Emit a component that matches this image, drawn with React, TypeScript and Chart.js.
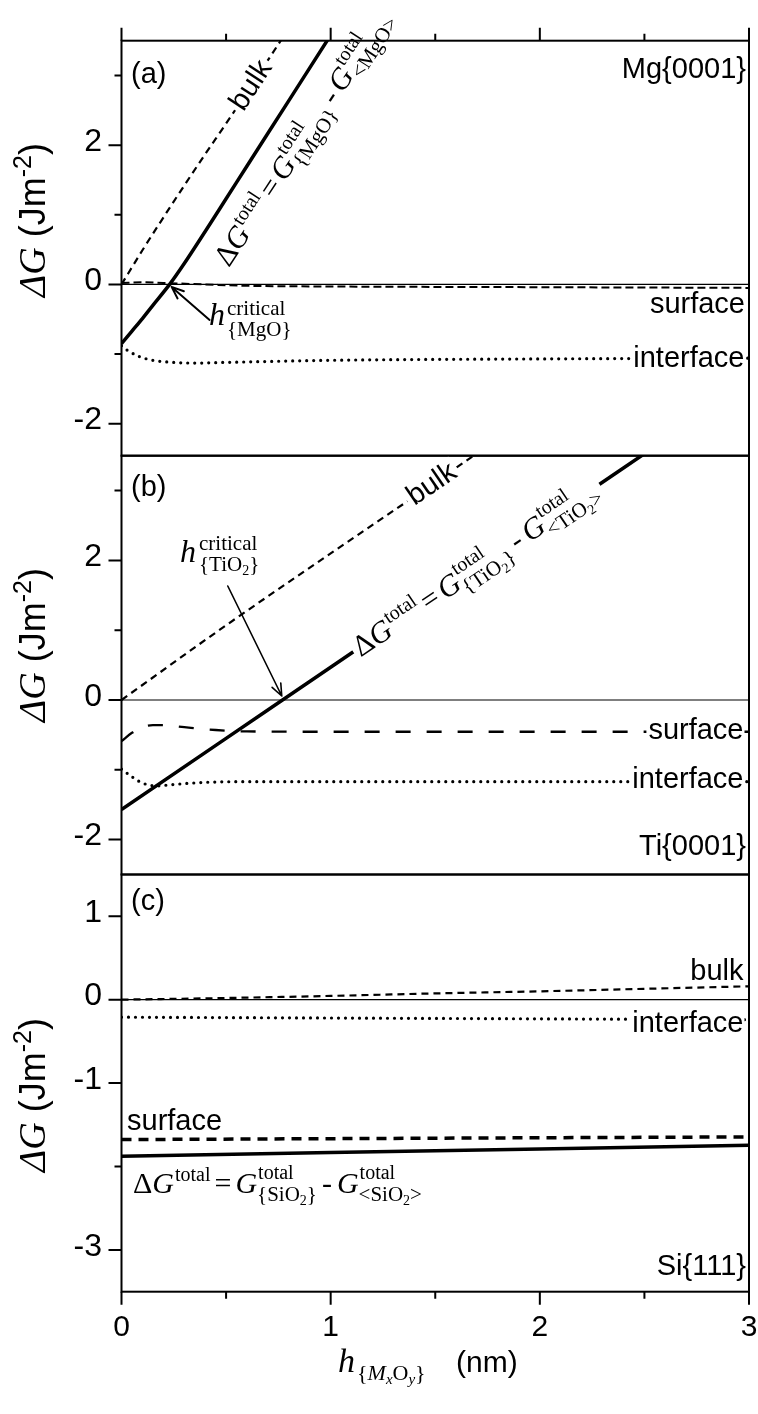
import React, { useEffect, useRef } from 'react';
import { Chart, registerables } from 'chart.js';

Chart.register(...registerables);

// ================= DATA =================
// shared x axis: h (nm)
const xTicksMajor = [0, 1, 2, 3];
const xTicksMinor = [0.5, 1.5, 2.5];
const xTickLabels = ['0', '1', '2', '3'];

// y ticks
const abTicksMajor = [-2, 0, 2];
const abTicksMinor = [-1, 1, 3];
const abTickLabels = ['-2', '0', '2'];
const cTicksMajor = [-3, -1, 0, 1];
const cTicksMinor = [-2];
const cTickLabels = ['-3', '-1', '0', '1'];

// (a) Mg{0001}
const aBulkX = [0, 0.1, 0.2, 0.3, 0.4, 0.5, 0.6, 0.7, 0.8];
const aBulkY = [0, 0.49, 0.96, 1.42, 1.87, 2.31, 2.76, 3.22, 3.68];
const aTotalX = [0, 0.05, 0.1, 0.15, 0.23, 0.3, 0.4, 0.5, 0.6, 0.7, 0.8, 0.9, 1.0];
const aTotalY = [-0.85, -0.67, -0.49, -0.3, 0, 0.3, 0.76, 1.23, 1.7, 2.17, 2.64, 3.11, 3.58];
const aSurfX = [0, 0.1, 0.2, 0.4, 0.6, 1, 2, 3];
const aSurfY = [0.02, 0.03, 0.02, 0, -0.02, -0.03, -0.04, -0.05];
const aIntX = [0, 0.03, 0.08, 0.15, 0.25, 0.35, 0.5, 1, 2, 3];
const aIntY = [-0.88, -0.95, -1.03, -1.09, -1.12, -1.13, -1.12, -1.09, -1.07, -1.06];

// (b) Ti{0001}
const bBulkX = [0, 0.5, 1, 1.5, 1.75];
const bBulkY = [0, 1.07, 2.1, 3.12, 3.64];
const bTotalX = [0, 0.5, 1, 1.5, 2, 2.55];
const bTotalY = [-1.57, -0.55, 0.47, 1.49, 2.51, 3.63];
const bSurfX = [0, 0.05, 0.1, 0.15, 0.2, 0.3, 0.45, 0.6, 1, 2, 3];
const bSurfY = [-0.59, -0.47, -0.39, -0.36, -0.36, -0.39, -0.43, -0.45, -0.455, -0.455, -0.455];
const bIntX = [0, 0.05, 0.1, 0.17, 0.25, 0.4, 0.6, 1, 2, 3];
const bIntY = [-0.99, -1.1, -1.19, -1.23, -1.21, -1.18, -1.17, -1.17, -1.17, -1.17];

// (c) Si{111}
const cBulkX = [0, 0.5, 1, 1.5, 2, 2.5, 3];
const cBulkY = [0, 0.02, 0.045, 0.075, 0.1, 0.13, 0.16];
const cIntX = [0, 1, 2, 3];
const cIntY = [-0.21, -0.22, -0.23, -0.24];
const cSurfX = [0, 1, 2, 3];
const cSurfY = [-1.677, -1.666, -1.655, -1.645];
const cTotalX = [0, 1, 2, 3];
const cTotalY = [-1.877, -1.833, -1.789, -1.745];

// ================= LAYOUT / STYLE =================
const W = 758;
const H = 1414;
const PLOT_L = 121.5;
const PLOT_R = 749;
const X_AXIS_H = 70;

const SANS = '"Liberation Sans", Arial, Helvetica, sans-serif';
const SERIF = '"Liberation Serif", "Times New Roman", Times, serif';
const fs = (n: number) => `${n}px ${SANS}`;
const fr = (n: number) => `${n}px ${SERIF}`;
const fi = (n: number) => `italic ${n}px ${SERIF}`;

type Sty = { width: number; dash: number[]; cap: 'butt' | 'round' };
const BULK: Sty = { width: 2.2, dash: [7, 5], cap: 'butt' };
const TOTAL: Sty = { width: 3.5, dash: [], cap: 'butt' };
const DOTS: Sty = { width: 3.2, dash: [0, 7], cap: 'round' };
const SURF_A: Sty = { width: 2, dash: [8, 4], cap: 'butt' };
const SURF_B: Sty = { width: 2.3, dash: [15, 16], cap: 'butt' };
const SURF_C: Sty = { width: 3.5, dash: [10, 7], cap: 'butt' };

// ================= helpers =================
type Txt = { t: string; f: string; dy?: number; pl?: number; pr?: number };
type Stk = { up: Txt[]; dn: Txt[] };
type Item = Txt | Stk;

function runsDraw(ctx: any, runs: Txt[], x: number, y: number, draw: boolean) {
  for (const r of runs) {
    x += r.pl || 0;
    ctx.font = r.f;
    if (draw) ctx.fillText(r.t, x, y + (r.dy || 0));
    x += ctx.measureText(r.t).width + (r.pr || 0);
  }
  return x;
}
function rich(ctx: any, items: Item[], x: number, y: number, draw = true) {
  ctx.textAlign = 'left';
  ctx.textBaseline = 'alphabetic';
  ctx.fillStyle = '#000';
  for (const it of items) {
    if ((it as Txt).t !== undefined) x = runsDraw(ctx, [it as Txt], x, y, draw);
    else {
      const s = it as Stk;
      const a = runsDraw(ctx, s.up, x, y, draw);
      const b = runsDraw(ctx, s.dn, x, y, draw);
      x = Math.max(a, b);
    }
  }
  return x;
}
function richWidth(ctx: any, items: Item[]) {
  return rich(ctx, items, 0, 0, false);
}
function interp(xs: number[], ys: number[], x: number) {
  for (let i = 0; i < xs.length - 1; i++) {
    if (x <= xs[i + 1] || i === xs.length - 2) {
      const t = (x - xs[i]) / (xs[i + 1] - xs[i]);
      return ys[i] + t * (ys[i + 1] - ys[i]);
    }
  }
  return ys[ys.length - 1];
}
function onLine(chart: any, xs: number[], ys: number[], x: number) {
  const sx = chart.scales.x;
  const sy = chart.scales.y;
  const p = (v: number) => ({ x: sx.getPixelForValue(v), y: sy.getPixelForValue(interp(xs, ys, v)) });
  const c = p(x);
  const p1 = p(x - 0.03);
  const p2 = p(x + 0.03);
  return { x: c.x, y: c.y, ang: Math.atan2(p2.y - p1.y, p2.x - p1.x) };
}
function text(ctx: any, s: string, font: string, x: number, y: number, align: 'left' | 'right', box = false) {
  ctx.font = font;
  const w = ctx.measureText(s).width;
  const left = align === 'left' ? x : x - w;
  if (box) {
    ctx.fillStyle = '#fff';
    ctx.fillRect(left - 2, y - 23, w + 3, 28);
  }
  ctx.fillStyle = '#000';
  ctx.textAlign = 'left';
  ctx.textBaseline = 'alphabetic';
  ctx.fillText(s, left, y);
}
function rotatedBoxed(ctx: any, s: string, font: string, L: any) {
  ctx.save();
  ctx.translate(L.x, L.y);
  ctx.rotate(L.ang);
  ctx.font = font;
  const w = ctx.measureText(s).width;
  ctx.fillStyle = '#fff';
  ctx.fillRect(-w / 2 - 3, -14, w + 6, 27);
  ctx.fillStyle = '#000';
  ctx.textAlign = 'center';
  ctx.textBaseline = 'middle';
  ctx.fillText(s, 0, 0);
  ctx.restore();
}
function arrow(ctx: any, x1: number, y1: number, x2: number, y2: number, lw: number, head: number) {
  ctx.save();
  ctx.strokeStyle = '#000';
  ctx.lineWidth = lw;
  ctx.lineCap = 'round';
  ctx.beginPath();
  ctx.moveTo(x1, y1);
  ctx.lineTo(x2, y2);
  const a = Math.atan2(y2 - y1, x2 - x1);
  for (const s of [-1, 1]) {
    ctx.moveTo(x2, y2);
    ctx.lineTo(x2 - head * Math.cos(a + s * 0.38), y2 - head * Math.sin(a + s * 0.38));
  }
  ctx.stroke();
  ctx.restore();
}
const sub = (t: string): Txt => ({ t, f: fr(21), dy: 8 });
const subsub = (t: string): Txt => ({ t, f: fr(14), dy: 12 });
function dgItems(cin: Txt[], cout: Txt[]): Item[] {
  return [
    { t: 'Δ', f: fr(30) },
    { t: 'G', f: fi(30) },
    { t: 'total', f: fr(20), dy: -12, pl: 1 },
    { t: '=', f: fr(30), pl: 4, pr: 4 },
    { t: 'G', f: fi(30) },
    { up: [{ t: 'total', f: fr(20), dy: -14, pl: 1 }], dn: cin },
    { t: '-', f: fr(30), pl: 5, pr: 5 },
    { t: 'G', f: fi(30) },
    { up: [{ t: 'total', f: fr(20), dy: -14, pl: 1 }], dn: cout },
  ];
}
function yTitle(ctx: any, cy: number) {
  const items: Item[] = [
    { t: 'ΔG', f: fi(38) },
    { t: ' (Jm', f: fs(36) },
    { t: '-2', f: fs(25), dy: -14 },
    { t: ')', f: fs(36) },
  ];
  ctx.save();
  ctx.translate(45, cy);
  ctx.rotate(-Math.PI / 2);
  const w = richWidth(ctx, items);
  rich(ctx, items, -w / 2, 0);
  ctx.restore();
}

// ================= panels =================
type Series = { xs: number[]; ys: number[]; sty: Sty };
interface PanelSpec {
  id: string;
  top: number;
  bottom: number;
  min: number;
  max: number;
  series: Series[];
  yMajor: number[];
  yMinor: number[];
  yLabels: string[];
  showX: boolean;
  topTicks: boolean;
  bottomTicks: boolean;
  titleY: number;
  annotate: (chart: any, ctx: any) => void;
}

const PANELS: PanelSpec[] = [
  {
    id: 'a',
    top: 40.7,
    bottom: 455.7,
    min: -2.46,
    max: 3.5,
    series: [
      { xs: aBulkX, ys: aBulkY, sty: BULK },
      { xs: aSurfX, ys: aSurfY, sty: SURF_A },
      { xs: aIntX, ys: aIntY, sty: DOTS },
      { xs: aTotalX, ys: aTotalY, sty: TOTAL },
    ],
    yMajor: abTicksMajor,
    yMinor: abTicksMinor,
    yLabels: abTickLabels,
    showX: false,
    topTicks: true,
    bottomTicks: false,
    titleY: 220,
    annotate: (chart, ctx) => {
      text(ctx, '(a)', fs(29), 131, 83, 'left');
      text(ctx, 'Mg{0001}', fs(29), 746, 78, 'right');
      text(ctx, 'surface', fs(29), 745, 313, 'right');
      text(ctx, 'interface', fs(29), 744.5, 366.5, 'right', true);
      rotatedBoxed(ctx, 'bulk', fs(29), onLine(chart, aBulkX, aBulkY, 0.621));
      // ΔG label beside the solid line
      const L = onLine(chart, aTotalX, aTotalY, 0.354);
      ctx.save();
      ctx.translate(L.x, L.y);
      ctx.rotate(L.ang);
      rich(ctx, dgItems([sub('{MgO}')], [sub('<MgO>')]), 0, 40);
      ctx.restore();
      // h critical
      const tipX = chart.scales.x.getPixelForValue(0.23) + 2;
      const tipY = chart.scales.y.getPixelForValue(0) + 2.5;
      arrow(ctx, tipX + 38, tipY + 33, tipX, tipY, 2, 13);
      rich(ctx, [{ t: 'h', f: fi(32) }], 209, 325);
      rich(ctx, [{ t: 'critical', f: fr(21) }], 227, 315);
      rich(ctx, [{ t: '{MgO}', f: fr(21) }], 227, 336);
    },
  },
  {
    id: 'b',
    top: 455.7,
    bottom: 874.5,
    min: -2.5,
    max: 3.5,
    series: [
      { xs: bBulkX, ys: bBulkY, sty: BULK },
      { xs: bSurfX, ys: bSurfY, sty: SURF_B },
      { xs: bIntX, ys: bIntY, sty: DOTS },
      { xs: bTotalX, ys: bTotalY, sty: TOTAL },
    ],
    yMajor: abTicksMajor,
    yMinor: abTicksMinor,
    yLabels: abTickLabels,
    showX: false,
    topTicks: false,
    bottomTicks: false,
    titleY: 645,
    annotate: (chart, ctx) => {
      text(ctx, '(b)', fs(29), 131, 496, 'left');
      text(ctx, 'Ti{0001}', fs(29), 746, 855, 'right');
      text(ctx, 'surface', fs(29), 743.5, 739, 'right', true);
      text(ctx, 'interface', fs(29), 743.5, 788, 'right', true);
      rotatedBoxed(ctx, 'bulk', fs(29), onLine(chart, bBulkX, bBulkY, 1.484));
      // ΔG label over the solid line
      const L = onLine(chart, bTotalX, bTotalY, 1.1);
      const items = dgItems([sub('{TiO'), subsub('2'), sub('}')], [sub('<TiO'), subsub('2'), sub('>')]);
      ctx.save();
      ctx.translate(L.x, L.y);
      ctx.rotate(L.ang);
      const w = richWidth(ctx, items);
      ctx.fillStyle = '#fff';
      ctx.fillRect(2, 9 - 31, w + 8, 45);
      rich(ctx, items, 5, 9);
      ctx.restore();
      // h critical
      const tipX = chart.scales.x.getPixelForValue(0.771) - 1;
      const tipY = chart.scales.y.getPixelForValue(0) - 4;
      arrow(ctx, tipX - 54, tipY - 110, tipX, tipY, 1.6, 13);
      rich(ctx, [{ t: 'h', f: fi(32) }], 180, 562);
      rich(ctx, [{ t: 'critical', f: fr(21) }], 199, 550);
      rich(ctx, [{ t: '{TiO', f: fr(21) }, { t: '2', f: fr(14), dy: 4 }, { t: '}', f: fr(21) }], 199, 571);
    },
  },
  {
    id: 'c',
    top: 874.5,
    bottom: 1291.7,
    min: -3.5,
    max: 1.5,
    series: [
      { xs: cBulkX, ys: cBulkY, sty: BULK },
      { xs: cIntX, ys: cIntY, sty: DOTS },
      { xs: cSurfX, ys: cSurfY, sty: SURF_C },
      { xs: cTotalX, ys: cTotalY, sty: TOTAL },
    ],
    yMajor: cTicksMajor,
    yMinor: cTicksMinor,
    yLabels: cTickLabels,
    showX: true,
    topTicks: false,
    bottomTicks: true,
    titleY: 1095,
    annotate: (chart, ctx) => {
      text(ctx, '(c)', fs(29), 131, 910, 'left');
      text(ctx, 'Si{111}', fs(29), 746, 1275, 'right');
      text(ctx, 'bulk', fs(29), 743.5, 980, 'right');
      text(ctx, 'interface', fs(29), 743.5, 1032, 'right', true);
      text(ctx, 'surface', fs(29), 127, 1130, 'left');
      rich(ctx, dgItems([sub('{SiO'), subsub('2'), sub('}')], [sub('<SiO'), subsub('2'), sub('>')]), 133, 1193);
      // x axis title
      rich(
        ctx,
        [
          { t: 'h', f: fi(34) },
          { t: '{', f: fr(22), dy: 8, pl: 2 },
          { t: 'M', f: fi(22), dy: 8 },
          { t: 'x', f: fi(15), dy: 12 },
          { t: 'O', f: fr(22), dy: 8 },
          { t: 'y', f: fi(15), dy: 12 },
          { t: '}', f: fr(22), dy: 8 },
        ],
        338,
        1372
      );
      rich(ctx, [{ t: '(nm)', f: fs(30) }], 456, 1372);
    },
  },
];

function makeConfig(p: PanelSpec): any {
  const plugin = {
    id: 'panelDeco' + p.id,
    beforeDatasetsDraw(chart: any) {
      const { ctx, chartArea: a } = chart;
      const y0 = chart.scales.y.getPixelForValue(0);
      ctx.save();
      ctx.strokeStyle = '#000';
      ctx.lineWidth = 1.2;
      ctx.beginPath();
      ctx.moveTo(a.left, y0);
      ctx.lineTo(a.right, y0);
      ctx.stroke();
      ctx.restore();
    },
    afterDatasetsDraw(chart: any) {
      const ctx = chart.ctx;
      ctx.save();
      p.annotate(chart, ctx);
      yTitle(ctx, p.titleY);
      ctx.restore();
    },
    afterDraw(chart: any) {
      const { ctx, chartArea: a } = chart;
      const sx = chart.scales.x;
      const sy = chart.scales.y;
      ctx.save();
      ctx.strokeStyle = '#000';
      ctx.lineWidth = 2;
      ctx.lineCap = 'butt';
      ctx.setLineDash([]);
      ctx.strokeRect(a.left, a.top, a.right - a.left, a.bottom - a.top);
      ctx.beginPath();
      for (const v of p.yMajor) {
        const y = sy.getPixelForValue(v);
        ctx.moveTo(a.left - 13, y);
        ctx.lineTo(a.left, y);
      }
      for (const v of p.yMinor) {
        const y = sy.getPixelForValue(v);
        ctx.moveTo(a.left - 7, y);
        ctx.lineTo(a.left, y);
      }
      const xt = (y0: number, dir: number) => {
        for (const v of xTicksMajor) {
          const x = sx.getPixelForValue(v);
          ctx.moveTo(x, y0);
          ctx.lineTo(x, y0 + dir * 13);
        }
        for (const v of xTicksMinor) {
          const x = sx.getPixelForValue(v);
          ctx.moveTo(x, y0);
          ctx.lineTo(x, y0 + dir * 7);
        }
      };
      if (p.topTicks) xt(a.top, -1);
      if (p.bottomTicks) xt(a.bottom, 1);
      ctx.stroke();
      ctx.restore();
    },
  };

  const xScale: any = {
    type: 'linear',
    min: 0,
    max: 3,
    display: p.showX,
    afterBuildTicks: (s: any) => {
      s.ticks = xTicksMajor.map((v) => ({ value: v }));
    },
    grid: { display: false, drawTicks: true, tickLength: 18 },
    border: { display: false },
    ticks: {
      padding: 0,
      color: '#000',
      font: { family: SANS, size: 30 },
      maxRotation: 0,
      autoSkip: false,
      callback: (v: number) => {
        const i = xTicksMajor.indexOf(v);
        return i >= 0 ? xTickLabels[i] : '';
      },
    },
  };
  if (p.showX) {
    xScale.afterFit = (s: any) => {
      s.height = X_AXIS_H;
    };
  }

  return {
    type: 'line',
    data: {
      datasets: p.series.map((s) => ({
        data: s.xs.map((x, i) => ({ x, y: s.ys[i] })),
        borderColor: '#000',
        borderWidth: s.sty.width,
        borderDash: s.sty.dash,
        borderCapStyle: s.sty.cap,
        borderJoinStyle: 'round',
        pointRadius: 0,
        cubicInterpolationMode: 'monotone',
        fill: false,
        clip: 0,
      })),
    },
    options: {
      animation: false,
      responsive: false,
      devicePixelRatio: 1,
      events: [],
      layout: {
        padding: {
          left: 0,
          right: W - PLOT_R,
          top: p.top,
          bottom: H - p.bottom - (p.showX ? X_AXIS_H : 0),
        },
      },
      plugins: { legend: { display: false }, tooltip: { enabled: false }, title: { display: false } },
      scales: {
        x: xScale,
        y: {
          type: 'linear',
          min: p.min,
          max: p.max,
          afterBuildTicks: (s: any) => {
            s.ticks = p.yMajor.map((v) => ({ value: v }));
          },
          afterFit: (s: any) => {
            s.width = PLOT_L;
          },
          grid: { display: false, drawTicks: true, tickLength: 19.5 },
          border: { display: false },
          ticks: {
            padding: 0,
            labelOffset: -3,
            color: '#000',
            font: { family: SANS, size: 32 },
            autoSkip: false,
            callback: (v: number) => {
              const i = p.yMajor.indexOf(v);
              return i >= 0 ? p.yLabels[i] : '';
            },
          },
        },
      },
    },
    plugins: [plugin],
  };
}

export default function App() {
  const r0 = useRef<HTMLCanvasElement>(null);
  const r1 = useRef<HTMLCanvasElement>(null);
  const r2 = useRef<HTMLCanvasElement>(null);
  const refs = [r0, r1, r2];

  useEffect(() => {
    const charts = PANELS.map((p, i) => new Chart(refs[i].current as HTMLCanvasElement, makeConfig(p)));
    return () => charts.forEach((c) => c.destroy());
  }, []);

  return (
    <div style={{ position: 'absolute', left: 0, top: 0, width: W, height: H, background: '#fff' }}>
      {refs.map((r, i) => (
        <canvas
          key={i}
          ref={r}
          width={W}
          height={H}
          style={{ position: 'absolute', left: 0, top: 0, width: W, height: H, display: 'block' }}
        />
      ))}
    </div>
  );
}
